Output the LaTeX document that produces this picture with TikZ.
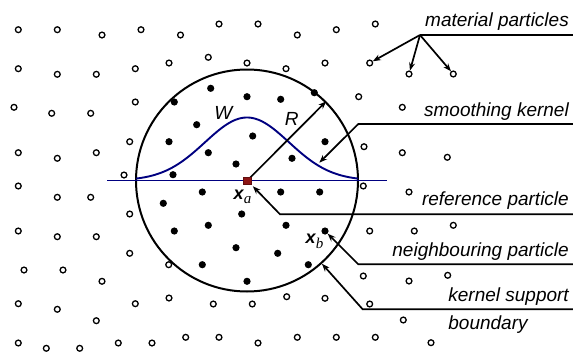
\documentclass[tikz,border=0pt]{standalone}
\usepackage{fontspec}
\setmainfont{Liberation Sans}
\newfontfamily\serifit{Liberation Serif}
\usetikzlibrary{arrows.meta}
\definecolor{kblue}{RGB}{0,0,128}
\definecolor{refred}{RGB}{140,20,20}
\begin{document}
\begin{tikzpicture}[x=1pt,y=-1pt,
  openp/.style={circle,draw,line width=1.3pt,fill=white,minimum size=5.8pt,inner sep=0},
  fullp/.style={circle,fill=black,minimum size=7.2pt,inner sep=0},
  lead/.style={line width=1.7pt},
  tip/.style={-{Stealth[length=8pt,width=6pt]}},
  lbl/.style={font=\fontsize{19}{22}\selectfont\itshape,inner sep=0,anchor=base east},
  sym/.style={font=\fontsize{19}{22}\selectfont\itshape,inner sep=0},
  ]
\useasboundingbox (0,0) rectangle (573,351);

% kernel support circle
\node[circle,draw,line width=2pt,minimum size=222pt,inner sep=0] (circ) at (247,180.5) {};

% horizontal axis and smoothing kernel
\coordinate (axL) at (107.3,180.5);
\coordinate (axR) at (386.7,180.5);
\draw[kblue,line width=1.9pt] (axL) -- (axR);
\draw[kblue,line width=1.9pt] plot[domain=-111:111,samples=90,smooth]
  ({247+\x},{180.5-63*exp(-((\x)*(\x))/3528)});

% material (open) particles
\foreach \p [count=\i] in {(18.3,29.7),(57.3,29.7),(102,35),(141,29.7),(180.5,35),(219,24),(258,24),(297.3,35),(336.3,29.7),(375.3,24),
 (18.3,68.7),(57.3,74.3),(96.3,74.3),(135.3,68.7),(169,63),(208.3,57.3),(247,63),(286,68.7),(325,63),
 (14,107.3),(51.7,113.3),(90.7,113.3),(135.3,102),(358.7,96.7),(402.3,107.3),
 (18.3,152.7),(57.3,158.3),(96.3,152.7),(129.7,141.7),(364,146.7),(402.3,152.7),(447.3,157.3),
 (124,175),(18.3,186),(57.3,197.3),(90.7,197.3),(363.3,186),(409,192),
 (129.7,214),(18.3,231),(57.3,236.7),(96.3,236.7),(369.7,231),(414.3,231),(453.3,225.3),
 (129.7,253.3),(24,270),(63,270),(102,281.3),(168.7,264.7),(363.3,276),(409,281),(447.7,275.3),
 (18.3,303.7),(57.3,309.3),(96.3,320.7),(135.3,303.7),(169,298),(213.3,304),(252.3,304),(286.7,296.7),(325,298.3),(369.7,304),(403.3,320),
 (18.3,343),(46.3,348.3),(79.7,348.3),(118.3,343),(152,343),(185.7,337.3),(219,337.3),(258,343),(297.3,337.3),(336.3,337.3),(375.3,337.3),(431,342.7)}
  \node[openp] (o\i) at \p {};
\node[openp] (m1) at (369.7,63) {};
\node[openp] (m2) at (409,74) {};
\node[openp] (m3) at (453.3,74) {};

% neighbouring (filled) particles
\foreach \p [count=\i] in {(174.3,102),(196.7,124.7),(169,141.7),(173,174.7),(210.7,88.3),(247,96.7),(280.7,99.3),(314.3,92.7),
 (252.7,136),(325,141.7),(208.3,152.7),(236,164),(292,158.3),(163.3,203.3),(174.3,231),(202.3,192),(280.7,192),(319.7,192),
 (241.7,214),(208.3,225.3),(286,225.3),(236,247.7),(277.7,253.3),(202.3,264.7),(308.3,264.7),(247,281.3)}
  \node[fullp] (f\i) at \p {};
\node[fullp] (xbp) at (325,231) {};

% radius arrow and reference particle
\coordinate (refc) at (247.3,180.5);
\draw[lead,tip] (refc) -- (circ.45);
\node[rectangle,fill=refred,draw=refred!70!black,line width=0.4pt,minimum size=7.5pt,inner sep=0] (ref) at (refc) {};

% symbols
\node[sym] (W) at (223.3,113.3) {W};
\node[sym] (R) at (291.7,119.3) {R};
\node[inner sep=0] (xa) at (242.5,197) {\fontsize{18}{20}\selectfont\bfseries\itshape x\raisebox{-4.5pt}{\fontsize{15}{15}\selectfont\mdseries\serifit\itshape a}};
\node[inner sep=0] (xb) at (314.5,241.5) {\fontsize{18}{20}\selectfont\bfseries\itshape x\raisebox{-4.5pt}{\fontsize{15}{15}\selectfont\mdseries\serifit\itshape b}};

% labels
\node[lbl] (tmat) at (569,26.5) {material particles};
\node[lbl] (tsk) at (569,116.5) {smoothing kernel};
\node[lbl] (tref) at (569,205) {reference particle};
\node[lbl] (tnb) at (569,256) {neighbouring particle};
\node[lbl] (tks) at (569,301) {kernel support};
\path (tks.base west) ++(0,28.3) node[lbl,anchor=base west] (tbd) {boundary};

% leaders
\coordinate (matR) at (573,35);
\coordinate (matK) at (420,35);
\draw[lead] (matR) -- (matK);
\draw[lead,tip] (matK) -- (m1);
\draw[lead,tip] (matK) -- (m2);
\draw[lead,tip] (matK) -- (m3);

\coordinate (skR) at (573,124);
\coordinate (skK) at (358.3,124);
\coordinate (skT) at (319.3,162.7);
\draw[lead,tip] (skR) -- (skK) -- (skT);

\coordinate (refR) at (573,214.3);
\coordinate (refK) at (280,214.3);
\draw[lead,tip,shorten >=2.5pt] (refR) -- (refK) -- (ref);

\coordinate (nbR) at (573,264.3);
\coordinate (nbK) at (358.3,264.3);
\draw[lead,tip] (nbR) -- (nbK) -- (xbp);

\coordinate (ksR) at (573,309.3);
\coordinate (ksK) at (362.7,309.3);
\draw[lead,tip] (ksR) -- (ksK) -- (circ.-48.5);
\end{tikzpicture}
\end{document}
